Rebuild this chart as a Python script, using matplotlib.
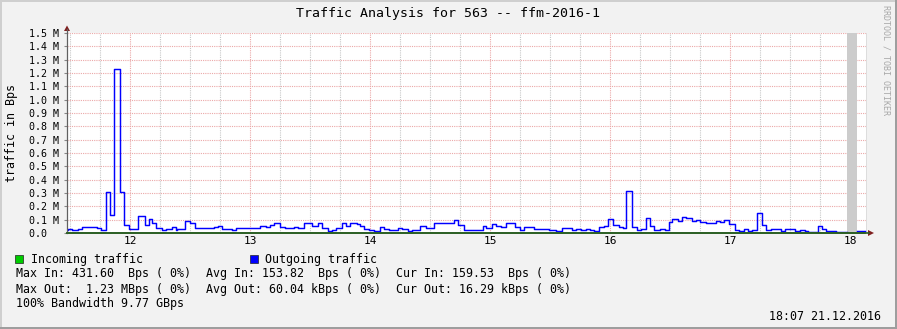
import numpy as np
import matplotlib
matplotlib.use("Agg")
import matplotlib.pyplot as plt
from matplotlib.patches import Polygon, Rectangle

W, H = 897, 329
MONO = "DejaVu Sans Mono"

# outgoing traffic: step start (minutes after 11:00) and value (kBps), nan = unknown
out_min = [28.5, 29, 31, 34, 36.2, 43.7, 45.4, 48.2, 50.2, 52.2, 55.2, 57.2, 59.4,
           64, 67.4, 69.4, 71.2, 73.2, 75.9, 77.9, 81.2, 82.9, 83.7, 87.7, 90, 92.4,
           99.2, 102, 104.2, 106.2, 110.9, 113, 125, 127.9, 130, 132, 135, 137.5,
           142.2, 144.2, 147.2, 149.2, 151.2, 154.2, 156.2, 159.2, 161.2, 163,
           166, 168, 170, 173.4, 175, 177.2, 179.7, 182.2, 185.2, 187.2, 189.4,
           194, 196, 198.9, 201, 205, 208, 212.2, 219.2, 222, 224.2, 227.2,
           236.4, 238.2, 241, 243, 245.5, 248.2, 250.2, 252.4, 255.2, 257.2,
           262.2, 269.4, 273.2, 276, 281, 283.2, 285.5, 288.2, 290.2, 292.2,
           294.4, 297.2, 299.2, 301.4, 304.4, 306.4, 308.2, 311.2, 313.4, 315.4,
           318.2, 320.2, 322.2, 325.2, 327.4, 329.4, 331, 334, 336, 338.2, 341,
           343, 345.2, 348.2, 353.2, 355.2, 357.2, 359.4, 362.4, 364.4, 366.9,
           369, 371, 373.4, 376.2, 378.2, 380.4, 385.4, 387.4, 392.4, 394.9,
           397.4, 399.2, 404, 406.2, 408.2, 413.2, 418.4, 423.4]
out_kbps = [22, 32, 22, 30, 45, 35, 22, 307, 137, 1230, 307, 62, 32,
            130, 62, 102, 75, 37, 22, 32, 45, 22, 30, 90, 75, 35,
            40, 47, 52, 30, 22, 37, 52, 45, 57, 75, 47, 37,
            45, 37, 72, 77, 55, 77, 37, 15, 22, 37,
            72, 55, 77, 67, 50, 32, 25, 15, 45, 30, 22,
            37, 30, 15, 22, 52, 37, 72, 77, 100, 62, 22,
            52, 37, 67, 55, 45, 72, 77, 45, 22, 45,
            30, 22, 15, 37, 22, 30, 22, 30, 22, 15,
            45, 50, 105, 62, 47, 35, 317, 45, 22, 30,
            112, 52, 22, 30, 22, 82, 105, 90, 120, 112, 90,
            97, 82, 75, 90, 82, 97, 67, 22, 15, 30,
            15, 22, 147, 60, 22, 30, 15, 30, 15, 22,
            15, 7, 52, 30, 15, 7, np.nan, 15]
out_end = 427.4

# incoming traffic (Bps level, sits on the baseline)
in_min = [28.5, 427.4]
in_kbps = [0.154, 0.160]

hour_labels = ["12", "13", "14", "15", "16", "17", "18"]
hour_min = [60, 120, 180, 240, 300, 360, 420]
y_vals = [0.0, 0.1, 0.2, 0.3, 0.4, 0.5, 0.6, 0.7, 0.8, 0.9, 1.0, 1.1, 1.2, 1.3, 1.4, 1.5]

legend_rows = [
    ["Max In: 431.60  Bps ( 0%)", "Avg In: 153.82  Bps ( 0%)", "Cur In: 159.53  Bps ( 0%)"],
    ["Max Out:  1.23 MBps ( 0%)", "Avg Out: 60.04 kBps ( 0%)", "Cur Out: 16.29 kBps ( 0%)"],
]

fig = plt.figure(figsize=(W / 100, H / 100), dpi=100, facecolor="#F2F2F2")

# plot area 67..867 x 33..233 px
ax = fig.add_axes([67 / W, (H - 233) / H, 800 / W, 200 / H])
ax.set_facecolor("white")
ax.set_xlim(28.5, 428.5)
ax.set_ylim(0, 1.5)
for s in ax.spines.values():
    s.set_visible(False)

# grid
for m in range(30, 429, 15):
    if m % 60:
        ax.axvline(m, color="#C8C8C8", lw=0.8, ls=(0, (1, 1)), zorder=1)
for m in hour_min:
    ax.axvline(m, color="#EBA8A8", lw=0.8, ls=(0, (1, 1)), zorder=1)
for v in y_vals[1:]:
    ax.axhline(v, color="#EBA8A8", lw=0.8, ls=(0, (1, 1)), zorder=1)

# unknown data
nan_i = [i for i, v in enumerate(out_kbps) if np.isnan(v)]
for i in nan_i:
    ax.axvspan(out_min[i], out_min[i + 1], color="#CCCCCC", lw=0, zorder=2)
ax.axvspan(out_end + 0.6, out_end + 1.1, color="#DDDDDD", lw=0, zorder=2)

t = out_min + [out_end]
v = [x / 1000.0 for x in out_kbps] + [out_kbps[-1] / 1000.0]
ax.plot(t, v, drawstyle="steps-post", color="#0000FF", lw=1.05, zorder=4)
ax.plot(in_min, [x / 1000.0 for x in in_kbps], drawstyle="steps-post",
        color="#2A5E22", lw=1.2, zorder=5, clip_on=False)

ax.set_xticks(hour_min)
ax.set_xticklabels(hour_labels, fontfamily=MONO, fontsize=8)
ax.set_yticks(y_vals)
ax.set_yticklabels([("%.1f M" % y) if y > 0 else "0.0  " for y in y_vals],
                   fontfamily=MONO, fontsize=7.2)
ax.tick_params(axis="x", length=0, pad=2.5)
ax.tick_params(axis="y", length=2, pad=3.5, color="#888888")

# overlay in pixel coordinates
ov = fig.add_axes([0, 0, 1, 1], facecolor="none")
ov.set_xlim(0, W)
ov.set_ylim(H, 0)
ov.axis("off")

# axes lines and arrows
ov.plot([67, 67], [233, 29], color="#606060", lw=0.9)
ov.add_patch(Polygon([[64, 31], [70, 31], [67, 25.5]], closed=True, color="#7F1F1F", lw=0))
ov.plot([67, 869], [233, 233], color="#2A5E22", lw=1.2)
ov.add_patch(Polygon([[868, 230], [868, 236], [874, 233]], closed=True, color="#7F1F1F", lw=0))

# frame shading
ov.add_patch(Rectangle((0, 0), W, 2, color="#CFCFCF", lw=0))
ov.add_patch(Rectangle((0, 0), 2, H, color="#CFCFCF", lw=0))
ov.add_patch(Rectangle((0, H - 2), W, 2, color="#9E9E9E", lw=0))
ov.add_patch(Rectangle((W - 2, 0), 2, H, color="#9E9E9E", lw=0))

ov.text(W / 2, 13.5, "Traffic Analysis for 563 -- ffm-2016-1", ha="center", va="center",
        fontfamily=MONO, fontsize=9.5)
ov.text(11.5, 133, "traffic in Bps", rotation=90, ha="center", va="center",
        fontfamily=MONO, fontsize=8.4)
ov.text(886, 5, "RRDTOOL / TOBI OETIKER", rotation=-90, ha="center", va="top",
        fontfamily=MONO, fontsize=6, color="#A8A8A8")

# legend
ov.add_patch(Rectangle((15, 255), 8, 8, facecolor="#00CC00", edgecolor="#222222", lw=0.5))
ov.text(31, 259, "Incoming traffic", ha="left", va="center", fontfamily=MONO, fontsize=8.4)
ov.add_patch(Rectangle((250, 255), 8, 8, facecolor="#0000FF", edgecolor="#222222", lw=0.5))
ov.text(265, 259, "Outgoing traffic", ha="left", va="center", fontfamily=MONO, fontsize=8.4)
for row, y in zip(legend_rows, [274, 289]):
    for txt, x in zip(row, [16, 206.5, 396]):
        ov.text(x, y, txt, ha="left", va="center", fontfamily=MONO, fontsize=8.4)
ov.text(16, 304, "100% Bandwidth 9.77 GBps", ha="left", va="center", fontfamily=MONO, fontsize=8.4)
ov.text(881, 316, "18:07 21.12.2016", ha="right", va="center", fontfamily=MONO, fontsize=8.4)

fig.savefig("out.png", dpi=100, facecolor=fig.get_facecolor())
